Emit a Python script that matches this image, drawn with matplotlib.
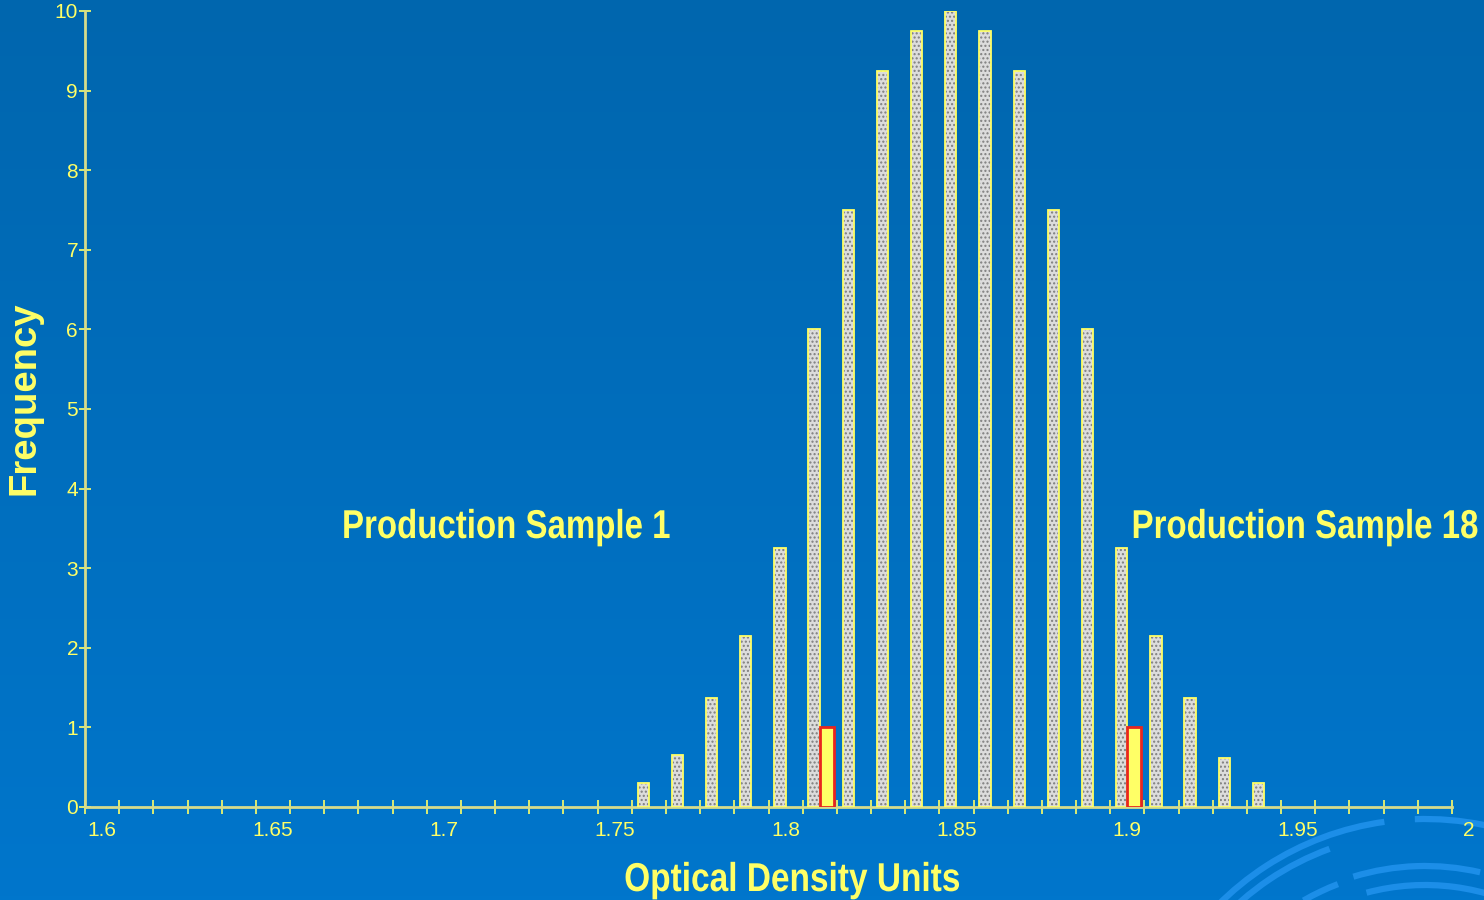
import numpy as np
import matplotlib.pyplot as plt
from matplotlib.patches import Arc
from matplotlib.patheffects import AbstractPathEffect
from matplotlib.ticker import MultipleLocator, FormatStrFormatter
from matplotlib import transforms

# histogram of optical density readings (bin left edges, 0.01 wide)
bins = [1.76, 1.77, 1.78, 1.79, 1.80, 1.81, 1.82, 1.83, 1.84, 1.85,
        1.86, 1.87, 1.88, 1.89, 1.90, 1.91, 1.92, 1.93, 1.94]
freq = [0.3, 0.65, 1.37, 2.15, 3.25, 6.0, 7.5, 9.25, 9.75, 10.0,
        9.75, 9.25, 7.5, 6.0, 3.25, 2.15, 1.37, 0.62, 0.3]

# the two production samples
sample_bins = [1.81, 1.90]
sample_freq = [1.0, 1.0]
sample_labels = ["Production Sample 1", "Production Sample 18"]

x_ticks = [1.6, 1.65, 1.7, 1.75, 1.8, 1.85, 1.9, 1.95, 2.0]
y_ticks = [0, 1, 2, 3, 4, 5, 6, 7, 8, 9, 10]

YELLOW = "#ffff66"
SPINE = "#d6dc8c"

W, H = 1484, 900


class Squeeze(AbstractPathEffect):
    """Narrow the glyphs horizontally around a fixed x (display pixels)."""

    def __init__(self, x0, sx):
        super().__init__()
        self.x0 = x0
        self.sx = sx

    def draw_path(self, renderer, gc, tpath, affine, rgbFace=None):
        squeeze = (transforms.Affine2D().translate(-self.x0, 0)
                   .scale(self.sx, 1).translate(self.x0, 0))
        renderer.draw_path(gc, tpath, affine + squeeze, rgbFace)


fig = plt.figure(figsize=(W / 100, H / 100), dpi=100)

# blue gradient backdrop with pale rings in the lower right corner
bg = fig.add_axes([0, 0, 1, 1], zorder=0)
grad = np.linspace(0, 1, 256)[:, None]
top = np.array([0, 102, 174]) / 255
bot = np.array([0, 118, 204]) / 255
img = top[None, None, :] * (1 - grad[..., None]) + bot[None, None, :] * grad[..., None]
bg.imshow(img, aspect="auto", extent=[0, W, H, 0])
bg.set_xlim(0, W)
bg.set_ylim(H, 0)
ring_c = (1425, 1111)
arc_kw = dict(color="#1c8ee8", lw=4.5)
for r, t1, t2 in [(292, 212, 262), (292, 268, 295), (279, 222, 250),
                  (243, 240, 249), (245, 253, 283), (226, 255, 300)]:
    bg.add_patch(Arc(ring_c, 2 * r, 2 * r, theta1=t1, theta2=t2, **arc_kw))
bg.axis("off")

ax = fig.add_axes([85 / W, 93 / H, (1452 - 85) / W, (807 - 11) / H], zorder=1)
ax.patch.set_alpha(0)

x = np.array(bins)
# dotted grey fill, then yellow outline on top
ax.bar(x + 0.0017, freq, width=0.0033, align="edge", color="#dcdcdc",
       edgecolor="#7e7e7e", hatch="....", linewidth=0, zorder=2)
ax.bar(x + 0.0017, freq, width=0.0033, align="edge", fill=False,
       edgecolor=YELLOW, linewidth=1.3, zorder=3)
ax.bar(np.array(sample_bins) + 0.005, sample_freq, width=0.0041, align="edge",
       color=YELLOW, edgecolor="#e8251f", linewidth=2, zorder=3)

ax.set_xlim(1.6, 2.0)
ax.set_ylim(0, 10)
ax.set_xticks(x_ticks)
ax.xaxis.set_minor_locator(MultipleLocator(0.01))
ax.xaxis.set_major_formatter(FormatStrFormatter("%g"))
ax.set_yticks(y_ticks)

for side in ["top", "right"]:
    ax.spines[side].set_visible(False)
for side in ["left", "bottom"]:
    ax.spines[side].set_color(SPINE)
    ax.spines[side].set_linewidth(2)

ax.tick_params(axis="x", which="both", direction="inout", length=10, width=1.2,
               color=YELLOW, labelcolor=YELLOW, labelsize=15, pad=5)
ax.tick_params(axis="y", direction="inout", length=8, width=1.2,
               color=YELLOW, labelcolor=YELLOW, labelsize=15, pad=1)
for lab in ax.get_xticklabels() + ax.get_yticklabels():
    lab.set_fontfamily(["Liberation Sans", "DejaVu Sans"])

# category-style labels sit in the middle of each bin
shift = transforms.ScaledTranslation(0.17, 0, fig.dpi_scale_trans)
for tick in ax.xaxis.get_major_ticks():
    tick.label1.set_transform(tick.label1.get_transform() + shift)

bold = dict(color=YELLOW, fontsize=29, fontweight="bold",
            family=["Liberation Sans", "DejaVu Sans"])
fig.text(792 / W, 1 - 891 / H, "Optical Density Units", ha="center", va="baseline",
         path_effects=[Squeeze(792, 0.83)], **bold)
fig.text(342 / W, 1 - 538 / H, sample_labels[0], ha="left", va="baseline",
         path_effects=[Squeeze(342, 0.82)], **bold)
fig.text(1478 / W, 1 - 538 / H, sample_labels[1], ha="right", va="baseline",
         path_effects=[Squeeze(1478, 0.82)], **bold)
fig.text(25 / W, 1 - 398 / H, "Frequency", rotation=90, ha="center", va="center",
         **dict(bold, fontsize=27.5))

fig.savefig("out.png", dpi=100)
